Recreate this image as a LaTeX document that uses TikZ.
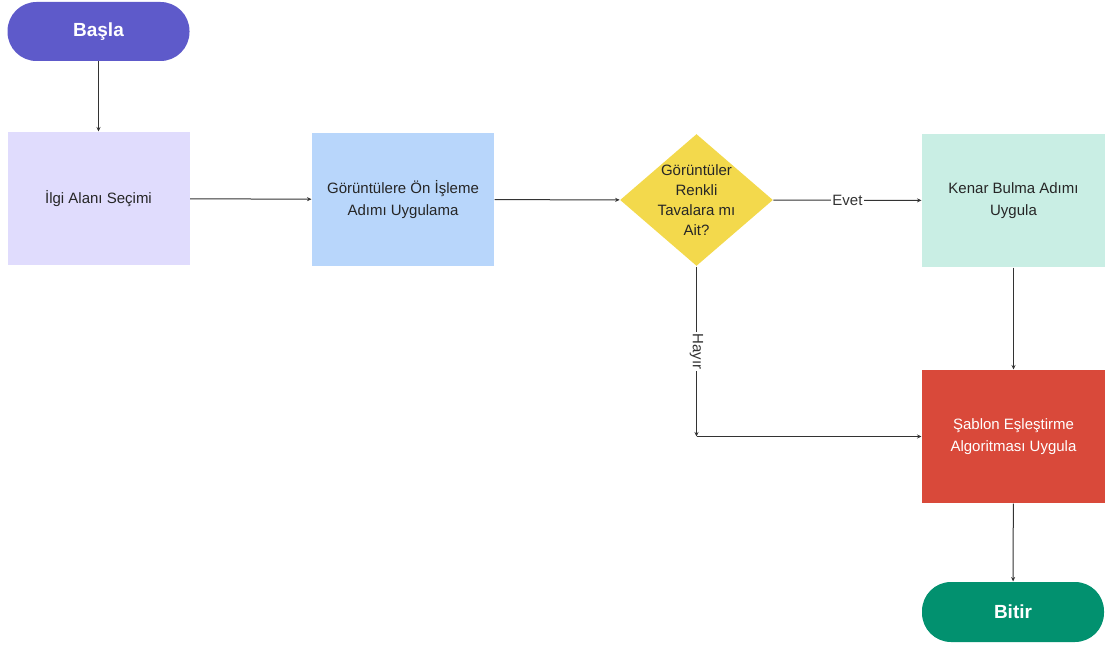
\documentclass[tikz,border=0pt]{standalone}
\usepackage{fontspec}
\setmainfont{Liberation Sans}
\usetikzlibrary{arrows.meta,shapes.geometric}
\definecolor{baslarenk}{HTML}{5E5ACA}
\definecolor{ilgirenk}{HTML}{E0DCFD}
\definecolor{onrenk}{HTML}{B8D6FB}
\definecolor{sorurenk}{HTML}{F3D94C}
\definecolor{kenarrenk}{HTML}{C9EEE4}
\definecolor{sablonrenk}{HTML}{D9493A}
\definecolor{bitirrenk}{HTML}{02916F}

\begin{document}
\begin{tikzpicture}[x=1pt,y=-1pt,line width=1pt,>={Stealth[length=4.5pt,width=4pt]},
  uc/.style={rounded corners=29pt,minimum width=182pt,minimum height=59pt,text=white,font=\fontsize{19}{22}\selectfont\bfseries},
  kutu/.style={minimum width=182pt,minimum height=133pt,inner sep=0pt,align=center,text=black!85,font=\fontsize{15}{21.5}\selectfont},
  yazi/.style={align=center,text=black!85,font=\fontsize{15}{20}\selectfont},
  etiket/.style={fill=white,inner sep=1.5pt,text=black!80,font=\fontsize{15}{16}\selectfont},
  ok/.style={->,draw=black!80}]
  \useasboundingbox (0,0) rectangle (1109,650);
  % baslangic ve ilk adimlar
  \node[uc,fill=baslarenk] (basla) at (98.5,31.5) {Başla};
  \node[kutu,fill=ilgirenk] (ilgi) at (98.5,198.5) {İlgi Alanı Seçimi};
  \node[kutu,fill=onrenk] (onisleme) at (403,199.5) {Görüntülere Ön İşleme\\Adımı Uygulama};
  % karar
  \node[diamond,fill=sorurenk,minimum width=153pt,minimum height=132pt,inner sep=0pt,
    label={[yazi]center:Görüntüler\\Renkli\\Tavalara mı\\Ait?}] (soru) at (696.5,200) {};
  \node[kutu,fill=kenarrenk,minimum width=183pt] (kenar) at (1013.5,200.5) {Kenar Bulma Adımı\\Uygula};
  \node[kutu,fill=sablonrenk,minimum width=183pt,text=white] (sablon) at (1013.5,436.5) {Şablon Eşleştirme\\Algoritması Uygula};
  \node[uc,fill=bitirrenk,minimum height=60pt] (bitir) at (1013,612) {Bitir};
  \coordinate (kose) at (soru.south |- sablon.west);
  % oklar
  \draw[ok] (basla) -- (ilgi);
  \draw[ok] (ilgi) -- (onisleme);
  \draw[ok] (onisleme) -- (soru);
  \draw[ok] (soru) -- node[etiket]{Evet} (kenar);
  \draw[ok] (soru) -- node[etiket,rotate=-90]{Hayır} (kose); % hayir kolu
  \draw[ok] (kose) -- (sablon);
  \draw[ok] (kenar) -- (sablon);
  \draw[ok] (sablon) -- (bitir);
\end{tikzpicture}
\end{document}
